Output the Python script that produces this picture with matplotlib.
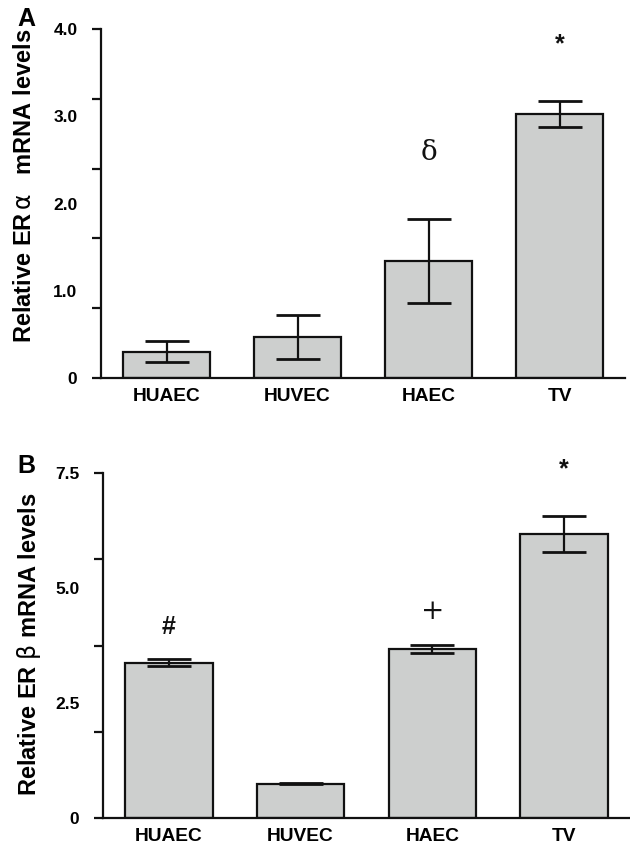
import matplotlib
matplotlib.use("Agg")
import matplotlib.pyplot as plt
from matplotlib import font_manager as fm
import numpy as np

# ---- data ----
categories = ["HUAEC", "HUVEC", "HAEC", "TV"]

era_mean = [0.30, 0.47, 1.34, 3.03]
era_err = [0.12, 0.25, 0.48, 0.15]
era_marks = ["", "", "δ", "*"]
era_mark_y = [0, 0, 2.59, 3.82]
era_ticklabels = ["0", "1.0", "2.0", "3.0", "4.0"]
era_ticklabel_vals = [0, 1.0, 2.0, 3.0, 4.0]
era_tickmarks = [0, 0.8, 1.6, 2.4, 3.2, 4.0]

erb_mean = [3.38, 0.75, 3.67, 6.17]
erb_err = [0.07, 0.02, 0.09, 0.39]
erb_marks = ["#", "", "+", "*"]
erb_mark_y = [4.15, 0, 4.48, 7.59]
erb_ticklabels = ["0", "2.5", "5.0", "7.5"]
erb_ticklabel_vals = [0, 2.5, 5.0, 7.5]
erb_tickmarks = [0, 1.875, 3.75, 5.625, 7.5]

# find regular-width Liberation Sans Bold
bold_path = None
for f in fm.findSystemFonts():
    name = f.split("/")[-1]
    if name == "LiberationSans-Bold.ttf":
        bold_path = f
        break
if bold_path:
    fm.fontManager.addfont(bold_path)
    BOLD = fm.FontProperties(fname=bold_path)
else:
    BOLD = fm.FontProperties(family="DejaVu Sans", weight="bold")

plt.rcParams["font.family"] = ["Liberation Sans", "DejaVu Sans"]
plt.rcParams["mathtext.fontset"] = "stix"

W, H = 630, 847
fig = plt.figure(figsize=(W / 100, H / 100), dpi=100)


def bp(size):
    p = BOLD.copy()
    p.set_size(size)
    return p


def px_axes(l, t, r, b):
    return fig.add_axes([l / W, 1 - b / H, (r - l) / W, (b - t) / H])


def draw(ax, mean, err, marks, mark_y, ymax, tlabels, tvals, tmarks):
    x = np.arange(len(categories))
    ax.bar(x, mean, width=0.665, color="#cdcfce", edgecolor="#111111",
           linewidth=1.6, zorder=2)
    ax.errorbar(x, mean, yerr=err, fmt="none", ecolor="#111111",
                elinewidth=1.6, capsize=16, capthick=2.0, zorder=3)
    for xi, m, my in zip(x, marks, mark_y):
        if not m:
            continue
        if m in ("δ", "+"):
            ax.text(xi, my, m, ha="center", va="center", fontsize=20,
                    family=["DejaVu Serif"], color="#111111")
        else:
            ax.text(xi, my, m, ha="center", va="center", color="#111111",
                    fontproperties=bp(18))
    ax.set_xlim(-0.5, 3.5)
    ax.set_ylim(0, ymax)
    for s in ["top", "right"]:
        ax.spines[s].set_visible(False)
    for s in ["left", "bottom"]:
        ax.spines[s].set_linewidth(1.6)
        ax.spines[s].set_color("#111111")
    ax.set_xticks(x)
    ax.set_xticklabels(categories, fontproperties=bp(13.8))
    ax.tick_params(axis="x", length=0, pad=7)
    ax.yaxis.remove_overlapping_locs = False
    ax.set_yticks(tvals)
    ax.set_yticklabels(tlabels, fontproperties=bp(12.5))
    ax.set_yticks(tmarks, minor=True)
    ax.tick_params(axis="y", which="major", length=0, pad=17)
    ax.tick_params(axis="y", which="minor", length=6.5, width=1.6,
                   color="#111111")


axA = px_axes(101, 29, 625, 378)
draw(axA, era_mean, era_err, era_marks, era_mark_y, 4.0,
     era_ticklabels, era_ticklabel_vals, era_tickmarks)
axB = px_axes(103, 473, 630, 818)
draw(axB, erb_mean, erb_err, erb_marks, erb_mark_y, 7.5,
     erb_ticklabels, erb_ticklabel_vals, erb_tickmarks)

fig.text(25 / W, 1 - 186 / H,
         r"Relative ER$\,\mathrm{\alpha}\;\;$ mRNA levels",
         rotation=90, ha="center", va="center", fontproperties=bp(17))
fig.text(29 / W, 1 - 644 / H,
         r"Relative ER$\;\mathrm{\beta}$ mRNA levels",
         rotation=90, ha="center", va="center", fontproperties=bp(17))
fig.text(26 / W, 1 - 19 / H, "A", ha="center", va="center",
         fontproperties=bp(18))
fig.text(26 / W, 1 - 466 / H, "B", ha="center", va="center",
         fontproperties=bp(18))

fig.savefig("out.png", dpi=100)
